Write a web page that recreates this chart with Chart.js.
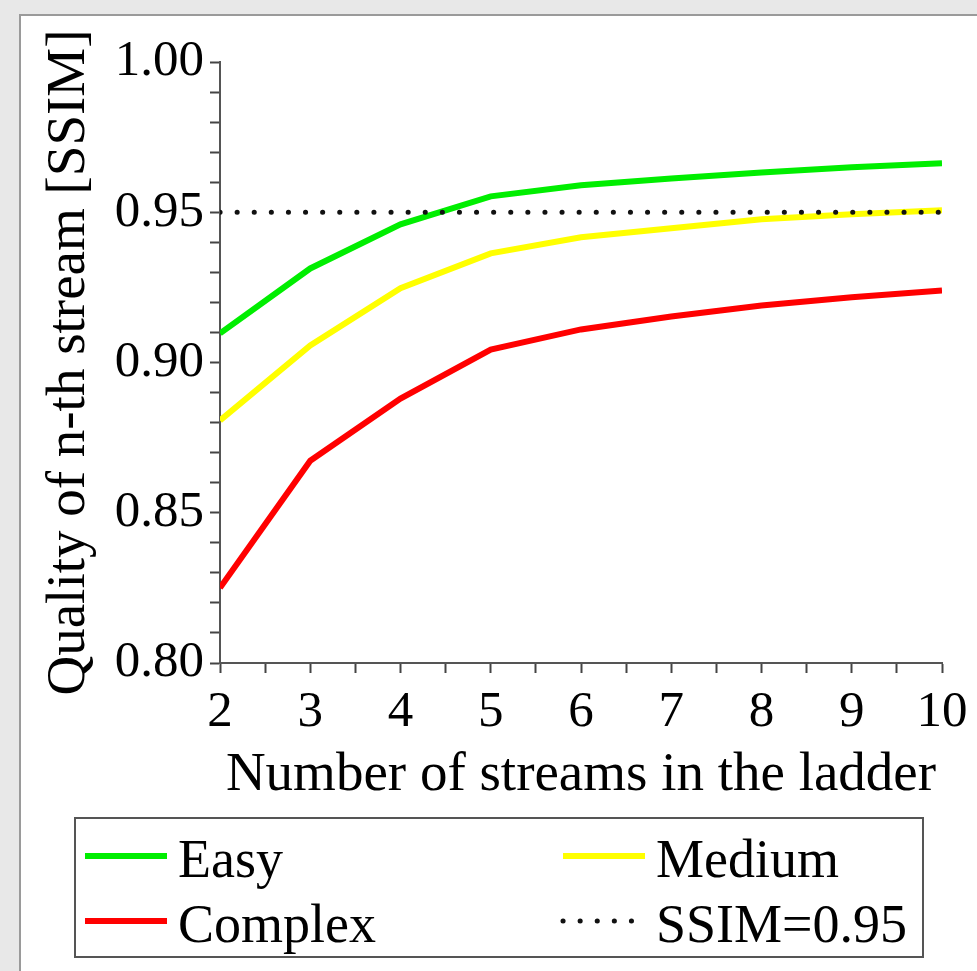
<!DOCTYPE html>
<html>
<head>
<meta charset="utf-8">
<script src="https://cdn.jsdelivr.net/npm/chart.js@4"></script>
<style>
  body { margin: 0; background: #e8e8e8; overflow: hidden; }
  #panel { position: absolute; left: 19px; top: 14px; right: -5px; bottom: -5px; background: #fff; border: 2px solid #9a9a9a; }
  #chart { position: absolute; left: 0; top: 0; }
</style>
</head>
<body>
<div id="panel"></div>
<canvas id="chart" width="977" height="971"></canvas>
<script>
// values
const streams = [2, 3, 4, 5, 6, 7, 8, 9, 10];
const easy = [0.9097, 0.9313, 0.9460, 0.9553, 0.9590, 0.9612, 0.9632, 0.9650, 0.9663];
const medium = [0.8807, 0.9057, 0.9247, 0.9363, 0.9417, 0.9447, 0.9477, 0.9493, 0.9507];
const complex = [0.8250, 0.8673, 0.8880, 0.9043, 0.9110, 0.9153, 0.9190, 0.9217, 0.9240];
const thresholdX = [2, 10];
const thresholdY = [0.95, 0.95];
const yLabelStep = 0.05;

const serif = "'Liberation Serif', 'Times New Roman', serif";

function pts(xs, ys) {
  return xs.map((x, i) => ({ x: x, y: ys[i] }));
}

// legend box in two columns, like the original
const boxLegend = {
  id: 'boxLegend',
  afterDraw(chart) {
    const ctx = chart.ctx;
    ctx.save();
    ctx.strokeStyle = '#555';
    ctx.lineWidth = 2;
    ctx.strokeRect(75, 818, 848, 139);
    const cols = [85, 563];
    const rows = [856, 921];
    ctx.font = '54px ' + serif;
    ctx.fillStyle = '#000';
    ctx.textBaseline = 'alphabetic';
    chart.data.datasets.forEach((ds, i) => {
      const x = cols[i % 2];
      const y = rows[Math.floor(i / 2)];
      ctx.beginPath();
      ctx.strokeStyle = ds.borderColor;
      ctx.lineWidth = ds.borderWidth;
      ctx.lineCap = ds.borderCapStyle || 'butt';
      ctx.setLineDash(ds.borderDash || []);
      ctx.moveTo(x, y);
      ctx.lineTo(x + 82, y);
      ctx.stroke();
      ctx.setLineDash([]);
      ctx.fillText(ds.label, x + 93, y + 21);
    });
    ctx.restore();
  }
};

new Chart(document.getElementById('chart'), {
  type: 'line',
  data: {
    datasets: [
      { label: 'Easy', data: pts(streams, easy), borderColor: '#00ee00', borderWidth: 6, order: 1 },
      { label: 'Medium', data: pts(streams, medium), borderColor: '#ffff00', borderWidth: 6, order: 1 },
      { label: 'Complex', data: pts(streams, complex), borderColor: '#ff0000', borderWidth: 6, order: 1 },
      { label: 'SSIM=0.95', data: pts(thresholdX, thresholdY), borderColor: '#111', borderWidth: 5,
        borderDash: [0.1, 17], borderCapStyle: 'round', order: 0 }
    ]
  },
  options: {
    responsive: false,
    animation: false,
    layout: { padding: { left: 0, top: 62, right: 35, bottom: 162 } },
    elements: { point: { radius: 0 }, line: { tension: 0 } },
    plugins: { legend: { display: false }, tooltip: { enabled: false } },
    scales: {
      x: {
        type: 'linear',
        min: 2,
        max: 10,
        afterFit: (scale) => { scale.height = 146; },
        border: { color: '#555', width: 2 },
        grid: { drawOnChartArea: false, drawTicks: true, tickLength: 10, tickColor: '#444', tickWidth: 2 },
        ticks: {
          stepSize: 0.5,
          autoSkip: false,
          maxRotation: 0,
          padding: 9,
          color: '#000',
          font: { family: serif, size: 51 },
          callback: (v) => Number.isInteger(v) ? String(v) : ''
        },
        title: {
          display: true,
          text: 'Number of streams in the ladder',
          color: '#000',
          font: { family: serif, size: 55 },
          padding: { top: 0, bottom: 0 }
        }
      },
      y: {
        min: 0.8,
        max: 1.0,
        afterFit: (scale) => { scale.width = 220; },
        border: { color: '#555', width: 2 },
        grid: { drawOnChartArea: false, drawTicks: true, tickLength: 10, tickColor: '#444', tickWidth: 2 },
        ticks: {
          stepSize: 0.01,
          autoSkip: false,
          padding: 6,
          color: '#000',
          font: { family: serif, size: 51 },
          callback: (v) => {
            const k = Math.round(v * 100);
            return k % Math.round(yLabelStep * 100) === 0 ? (k / 100).toFixed(2) : '';
          }
        },
        title: {
          display: true,
          text: 'Quality of n-th stream [SSIM]',
          color: '#000',
          font: { family: serif, size: 55 },
          padding: { top: 37, bottom: 0 }
        }
      }
    }
  },
  plugins: [boxLegend]
});
</script>
</body>
</html>
